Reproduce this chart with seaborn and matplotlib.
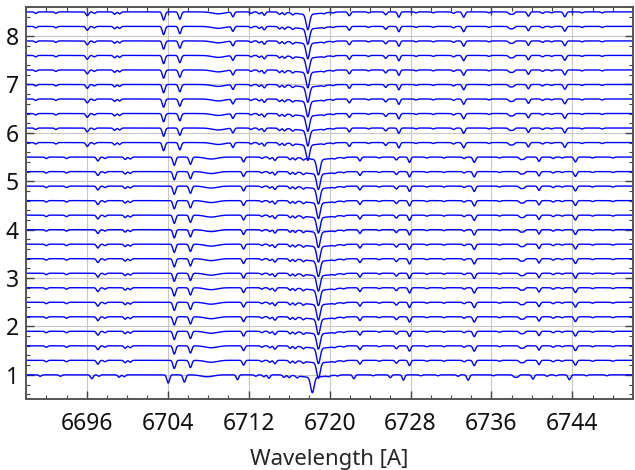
import numpy as np
import pandas as pd
import matplotlib
matplotlib.use("Agg")
import matplotlib.pyplot as plt
from matplotlib.ticker import MultipleLocator
import seaborn as sns

# ---- data ----
# absorption lines in the frame of the middle group of spectra
line_center = [6692.0, 6694.0, 6697.1, 6697.8, 6699.8, 6700.3, 6704.65, 6706.25,
               6711.5, 6713.3, 6714.1, 6714.6, 6716.1, 6716.6, 6717.4, 6718.9,
               6720.5, 6721.4, 6723.0, 6724.9, 6726.6, 6727.9, 6729.6, 6731.3,
               6733.3, 6734.3, 6736.8, 6738.9, 6739.2, 6740.7, 6742.1, 6743.0,
               6744.3, 6746.0, 6748.0]
line_depth = [0.03, 0.03, 0.08, 0.03, 0.05, 0.04, 0.17, 0.15,
              0.10, 0.03, 0.04, 0.07, 0.05, 0.05, 0.04, 0.32,
              0.02, 0.02, 0.08, 0.02, 0.06, 0.11, 0.02, 0.02,
              0.03, 0.11, 0.02, 0.05, 0.04, 0.09, 0.03, 0.02,
              0.10, 0.02, 0.02]
line_sigma = [0.12, 0.12, 0.13, 0.12, 0.12, 0.12, 0.13, 0.13,
              0.12, 0.12, 0.12, 0.12, 0.12, 0.12, 0.12, 0.17,
              0.12, 0.12, 0.12, 0.12, 0.12, 0.12, 0.12, 0.12,
              0.12, 0.13, 0.12, 0.15, 0.12, 0.12, 0.12, 0.12,
              0.13, 0.12, 0.12]

# spectra: vertical offset, group shift (Angstrom), broad feature centre
group_names = ["bottom", "middle", "top"]
group_count = [1, 15, 10]
group_shift = [-0.6, 0.0, -1.05]
group_broad = [6707.9, 6708.3, 6709.0]
broad_depth = 0.04
broad_sigma = 0.6
wing_depth = 0.05
wing_sigma = 1.2
offset_start = 1.0
offset_step = 0.3

xlim = (6690, 6750)
ylim = (0.5, 8.6)

# ---- build spectra ----
wave = np.linspace(xlim[0], xlim[1], 3000)
rows = []
k = 0
for g, n in enumerate(group_count):
    for _ in range(n):
        off = offset_start + offset_step * k
        flux = np.full_like(wave, off)
        for c, d, s in zip(line_center, line_depth, line_sigma):
            flux -= d * np.exp(-0.5 * ((wave - c - group_shift[g]) / s) ** 2)
        flux -= wing_depth * np.exp(-0.5 * ((wave - 6718.9 - group_shift[g]) / wing_sigma) ** 2)
        flux -= broad_depth * np.exp(-0.5 * ((wave - group_broad[g]) / broad_sigma) ** 2)
        rows.append(pd.DataFrame({"wavelength": wave, "flux": flux, "spec": k}))
        k += 1
df = pd.concat(rows, ignore_index=True)

# ---- plot ----
sns.set_style("ticks")
plt.rcParams["font.family"] = ["Noto Sans", "DejaVu Sans"]

fig = plt.figure(figsize=(6.35, 4.70), dpi=100)
ax = fig.add_axes([0.041, 0.151, 0.956, 0.834])
sns.lineplot(data=df, x="wavelength", y="flux", units="spec", estimator=None,
             color="#0000ff", lw=1.0, ax=ax, legend=False)

ax.set_xlim(*xlim)
ax.set_ylim(*ylim)
ax.xaxis.set_major_locator(MultipleLocator(8))
ax.xaxis.set_minor_locator(MultipleLocator(2))
ax.yaxis.set_major_locator(MultipleLocator(1))
ax.yaxis.set_minor_locator(MultipleLocator(0.2))
ax.grid(True, which="major", color="#c8c8c8", ls="-", lw=0.8)
ax.set_axisbelow(True)
ax.tick_params(which="both", direction="in", top=True, right=True, colors="#444444",
               labelcolor="#111111")
ax.tick_params(which="major", length=6, width=1, labelsize=16.5)
ax.tick_params(axis="x", which="major", pad=9)
ax.tick_params(axis="y", which="major", pad=5)
ax.tick_params(which="minor", length=3, width=0.8)
for sp in ax.spines.values():
    sp.set_color("#555555")
    sp.set_linewidth(1.4)
ax.set_xlabel("Wavelength [A]", fontsize=16, labelpad=10)
ax.set_ylabel("")

fig.savefig("out.png", dpi=100)
